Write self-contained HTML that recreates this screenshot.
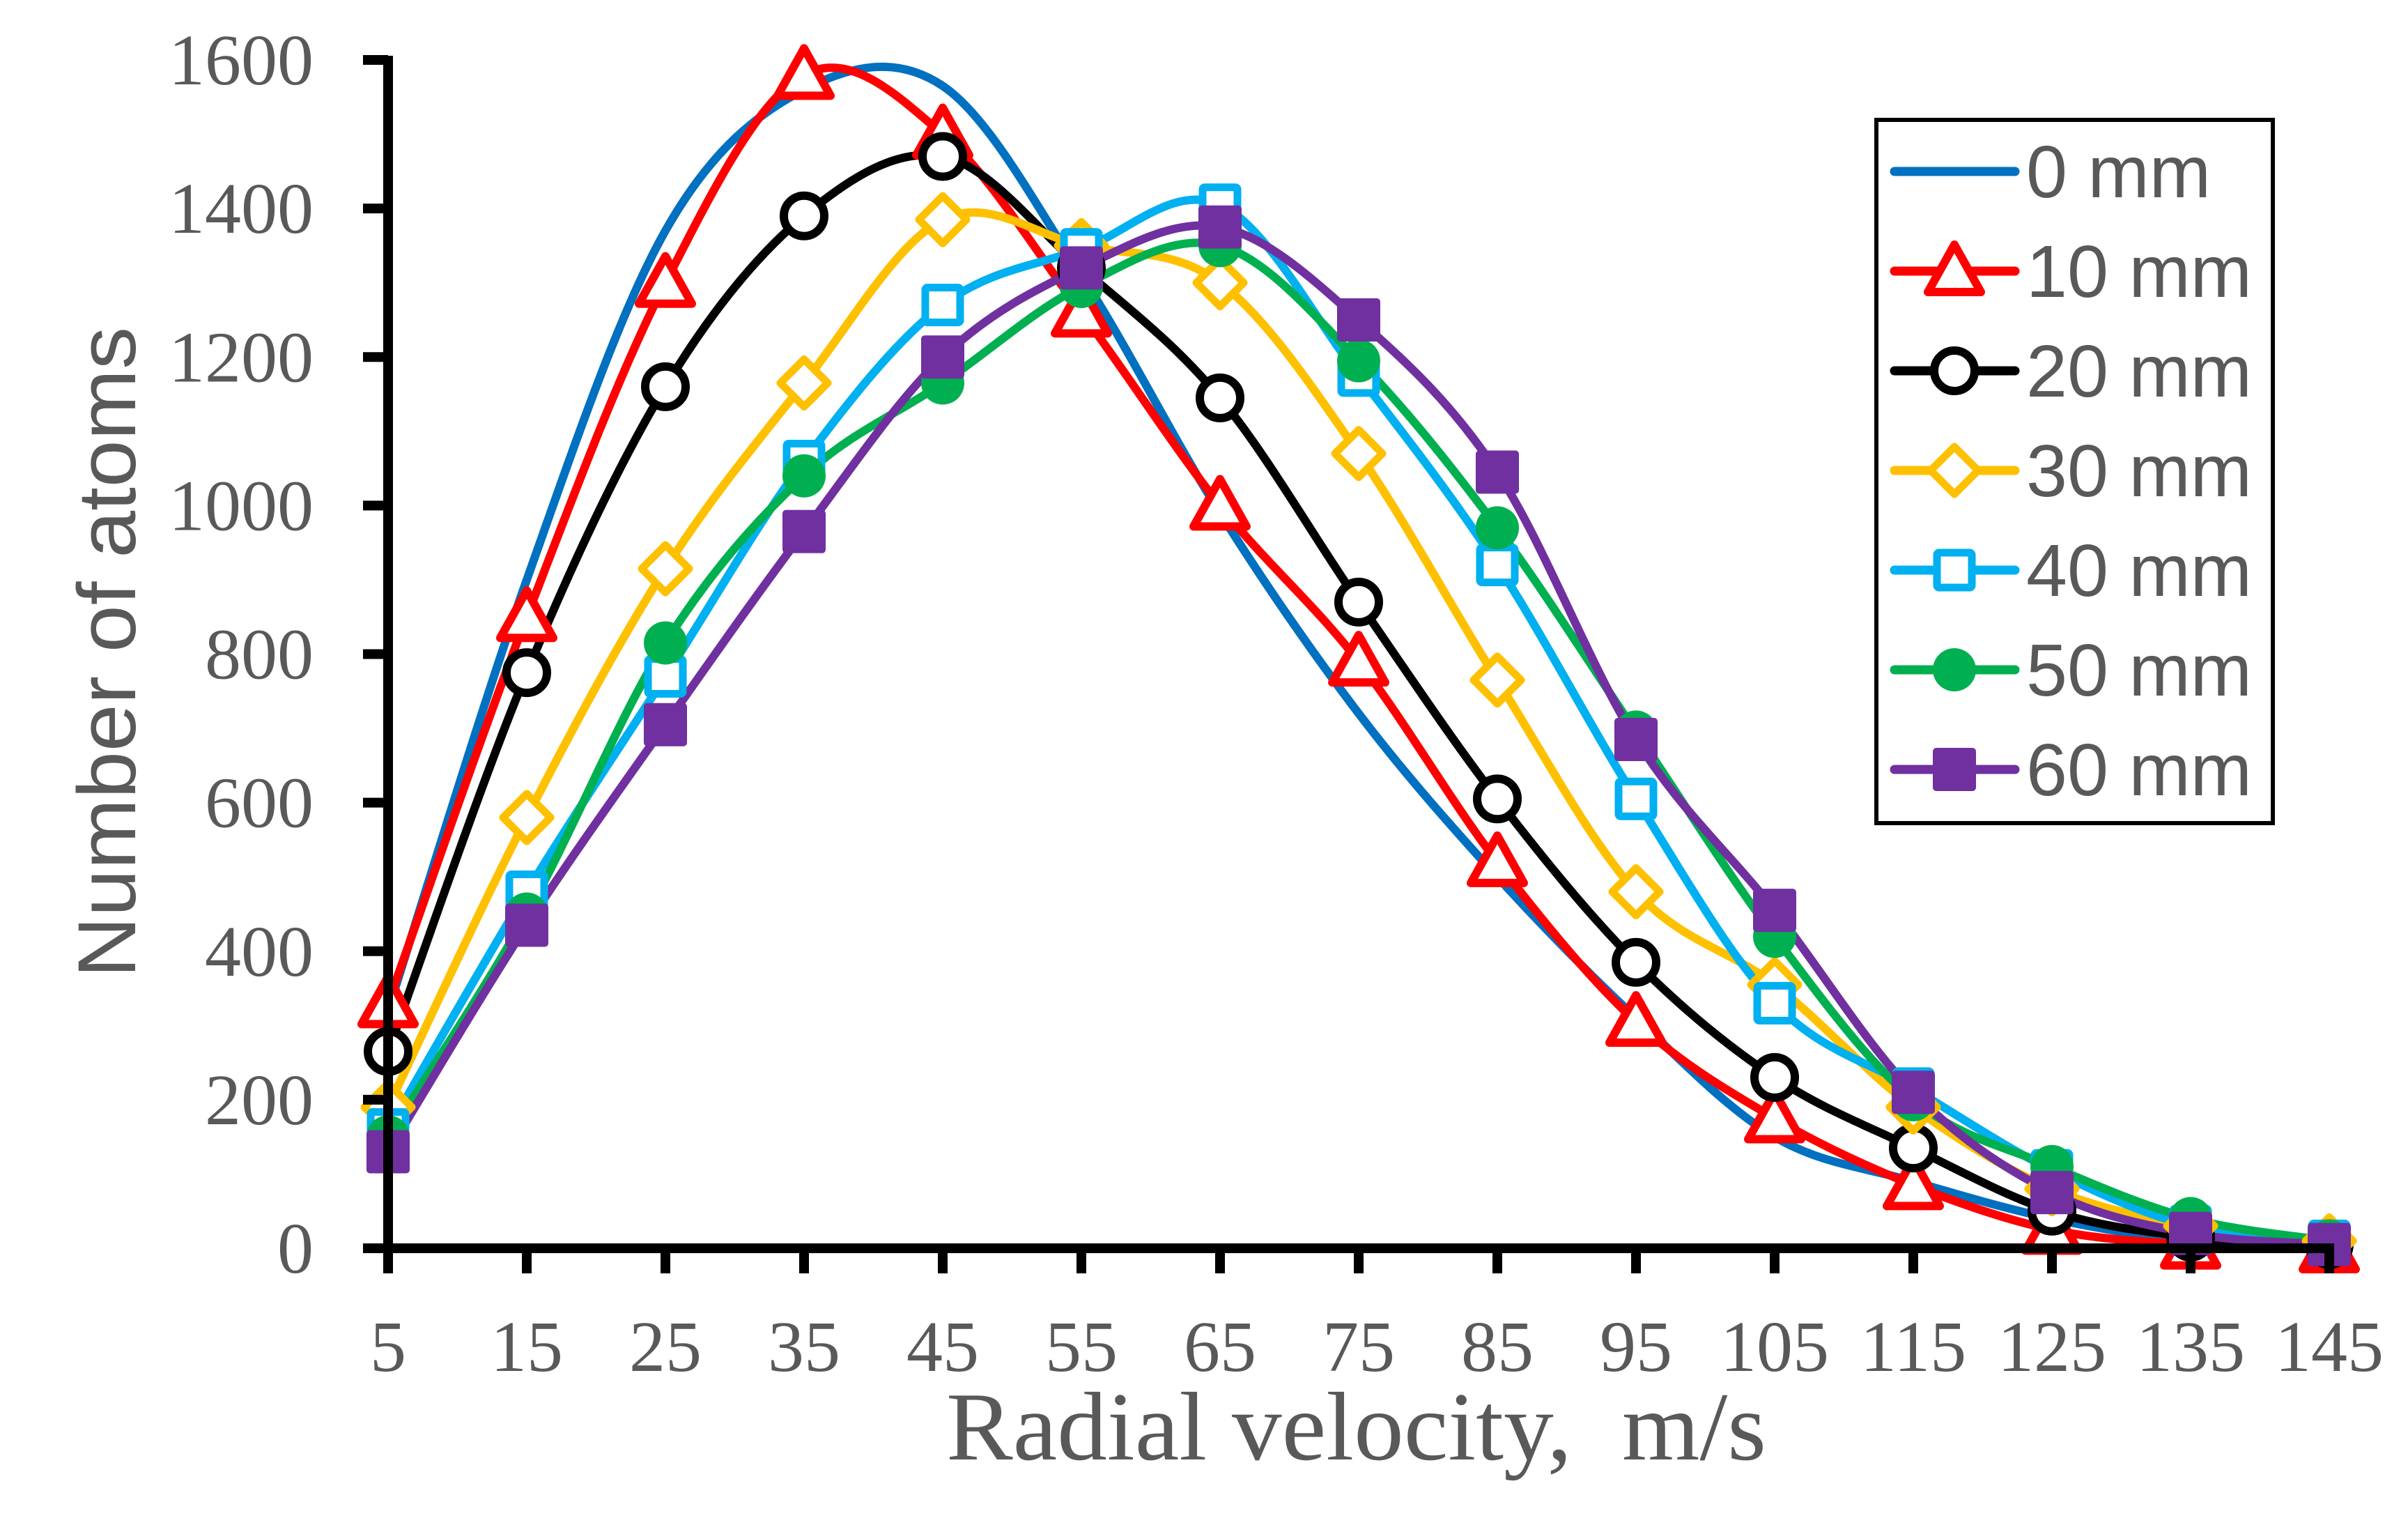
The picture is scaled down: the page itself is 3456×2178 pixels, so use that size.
<!DOCTYPE html>
<html><head><meta charset="utf-8"><style>
html,body{margin:0;padding:0;background:#fff;}
svg{display:block;}
</style></head><body>
<svg id="chart" width="3456" height="2178" viewBox="0 0 3456 2178" xmlns="http://www.w3.org/2000/svg">
<rect x="0" y="0" width="3456" height="2178" fill="#fff"/>
<g id="series"></g>
<g id="axes"></g>
<text x="1358" y="2094" font-family="Liberation Serif, serif" font-size="140" fill="#595959" textLength="1177" lengthAdjust="spacingAndGlyphs" xml:space="preserve">Radial velocity,  m/s</text>
<text transform="translate(194,1403) rotate(-90)" font-family="Liberation Sans, sans-serif" font-size="118" fill="#595959" textLength="934" lengthAdjust="spacingAndGlyphs">Number of atoms</text>
<g id="legend">
<rect x="2693" y="172" width="569" height="1009" fill="#fff" stroke="#000" stroke-width="6"/>
</g>
</svg>
<script>
const categories = [5,15,25,35,45,55,65,75,85,95,105,115,125,135,145];
const yTicks = [0,200,400,600,800,1000,1200,1400,1600];
const seriesNames = ["0 mm","10 mm","20 mm","30 mm","40 mm","50 mm","60 mm"];
const s0 = [320,900,1370,1560,1565,1310,990,720,500,310,150,90,40,10,5];
const s10 = [330,850,1300,1580,1500,1260,1000,790,520,305,175,85,25,5,0];
const s20 = [265,775,1160,1390,1470,1320,1145,870,605,385,230,135,50,15,5];
const s30 = [190,580,915,1165,1385,1350,1300,1070,765,480,355,190,80,30,10];
const s40 = [160,480,770,1060,1270,1345,1405,1175,920,605,330,215,105,30,10];
const s50 = [150,450,815,1040,1165,1295,1350,1195,970,695,420,200,110,40,10];
const s60 = [130,435,705,965,1200,1320,1375,1250,1045,685,455,210,75,20,5];

const allSeries=[s0,s10,s20,s30,s40,s50,s60];
const colors=["#0070C0","#FF0000","#000000","#FFC000","#00B0F0","#00B050","#7030A0"];
const markers=["none","triangle","circle","diamond","square","dot","fsquare"];
const NS="http://www.w3.org/2000/svg";
const X0=557, DX=199, Y0=1791, Y1=86;
function xs(i){return X0+i*DX;}
function ys(v){return Y0-(v/1600)*(Y0-Y1);}
function mk(tag,attrs,parent){const e=document.createElementNS(NS,tag);for(const k in attrs)e.setAttribute(k,attrs[k]);parent.appendChild(e);return e;}
const gS=document.getElementById('series'), gA=document.getElementById('axes'), gL=document.getElementById('legend');

function smoothPath(pts){
  let d="M"+pts[0][0]+","+pts[0][1];
  for(let i=0;i<pts.length-1;i++){
    const p0=pts[Math.max(0,i-1)],p1=pts[i],p2=pts[i+1],p3=pts[Math.min(pts.length-1,i+2)];
    const c1=[p1[0]+(p2[0]-p0[0])/6,p1[1]+(p2[1]-p0[1])/6];
    const c2=[p2[0]-(p3[0]-p1[0])/6,p2[1]-(p3[1]-p1[1])/6];
    d+=" C"+c1[0]+","+c1[1]+" "+c2[0]+","+c2[1]+" "+p2[0]+","+p2[1];
  }
  return d;
}
function drawMarker(type,cx,cy,col,parent,name){
  let e=null;
  if(type==="triangle"){e=mk('polygon',{points:(cx)+","+(cy-38)+" "+(cx+38)+","+(cy+30)+" "+(cx-38)+","+(cy+30),fill:"#fff",stroke:col,"stroke-width":12,"stroke-linejoin":"round"},parent);}
  else if(type==="circle"){e=mk('circle',{cx:cx,cy:cy,r:29,fill:"#fff",stroke:col,"stroke-width":12},parent);}
  else if(type==="diamond"){e=mk('polygon',{points:cx+","+(cy-34)+" "+(cx+34)+","+cy+" "+cx+","+(cy+34)+" "+(cx-34)+","+cy,fill:"#fff",stroke:col,"stroke-width":11,"stroke-linejoin":"round"},parent);}
  else if(type==="square"){e=mk('rect',{x:cx-25,y:cy-25,width:50,height:50,fill:"#fff",stroke:col,"stroke-width":11,rx:3},parent);}
  else if(type==="dot"){e=mk('circle',{cx:cx,cy:cy,r:31,fill:col},parent);}
  else if(type==="fsquare"){e=mk('rect',{x:cx-31,y:cy-31,width:62,height:62,fill:col,rx:5},parent);}
  if(e){
  }
}
// series
allSeries.forEach((vals,si)=>{
  const pts=vals.map((v,i)=>[xs(i),ys(v)]);
  const p=mk('path',{d:smoothPath(pts),fill:"none",stroke:colors[si],"stroke-width":12,"stroke-linejoin":"round","stroke-linecap":"round"},gS);
  
  
});
allSeries.forEach((vals,si)=>{
  vals.forEach((v,i)=>drawMarker(markers[si],xs(i),ys(v),colors[si],gS,'marker-'+seriesNames[si].replace(' ','-')+'-'+categories[i]));
});
// axes
const ya=mk('line',{x1:X0,y1:Y1-6,x2:X0,y2:Y0+36,stroke:"#000","stroke-width":14},gA);


const xa=mk('line',{x1:521,y1:Y0,x2:xs(categories.length-1)+7,y2:Y0,stroke:"#000","stroke-width":14},gA);


yTicks.forEach(t=>{
  const l=mk('line',{x1:521,y1:ys(t),x2:X0,y2:ys(t),stroke:"#000","stroke-width":14},gA);
  
  
  const tx=mk('text',{x:450,y:ys(t)+35,"text-anchor":"end","font-family":"Liberation Serif, serif","font-size":104,fill:"#595959"},gA);
  tx.textContent=t;
  
  
});
categories.forEach((c,i)=>{
  const l=mk('line',{x1:xs(i),y1:Y0,x2:xs(i),y2:1827,stroke:"#000","stroke-width":14},gA);
  
  
  const tx=mk('text',{x:xs(i),y:1967,"text-anchor":"middle","font-family":"Liberation Serif, serif","font-size":104,fill:"#595959"},gA);
  tx.textContent=c;
  
  
});
// legend
seriesNames.forEach((n,si)=>{
  const y=246+si*143;
  const g=mk('g',{},gL);
  
  
  mk('line',{x1:2719,y1:y,x2:2892,y2:y,stroke:colors[si],"stroke-width":13,"stroke-linecap":"round"},g);
  drawMarker(markers[si],2805,y,colors[si],g,'legend-marker');
  const t=mk('text',{x:2908,y:y+37,"font-family":"Liberation Sans, sans-serif","font-size":106,fill:"#595959"},g);
  t.textContent=n;
  
  
});
</script>
</body></html>
